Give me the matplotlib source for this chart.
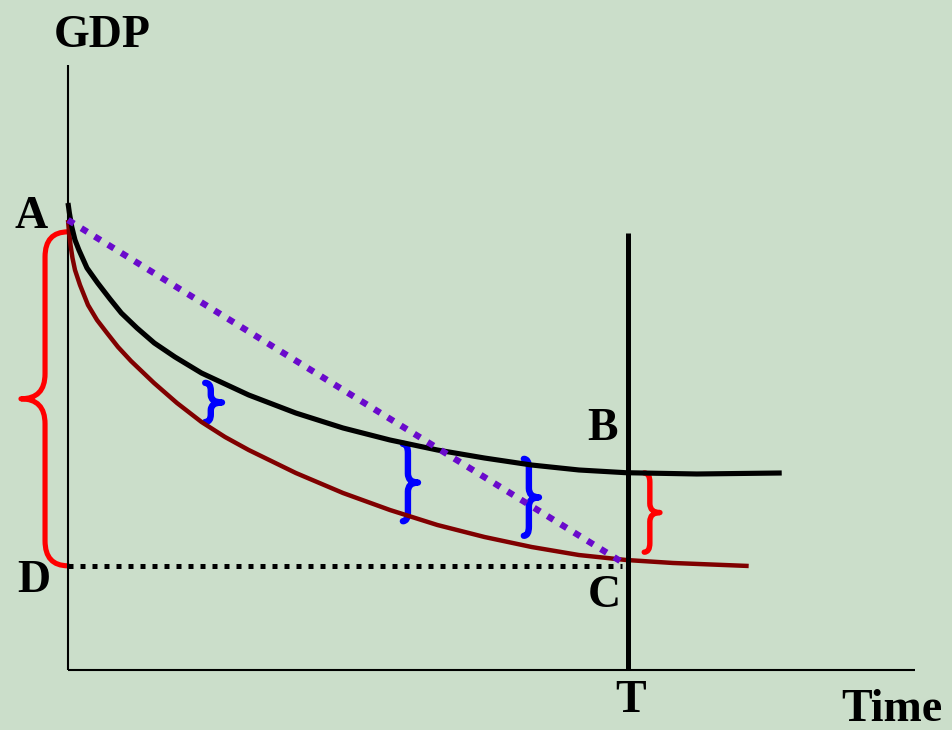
import matplotlib
matplotlib.use("Agg")
import matplotlib.pyplot as plt
from matplotlib.path import Path
from matplotlib.patches import PathPatch

# ---- data (time units: T = 10) ----
time_actual = [0, 0.025, 0.068, 0.125, 0.195, 0.339, 0.53, 0.75, 0.952, 1.232,
               1.541, 1.911, 2.384, 2.804, 3.227, 4.068, 4.911, 5.75, 6.596,
               7.438, 8.28, 9.123, 9.964, 11.229, 12.745]
gdp_actual = [10.264, 10.044, 9.736, 9.451, 9.231, 8.835, 8.505, 8.154, 7.846,
              7.516, 7.187, 6.879, 6.527, 6.286, 6.044, 5.648, 5.319, 5.055,
              4.835, 4.659, 4.505, 4.396, 4.336, 4.308, 4.33]

time_fast = [0, 0.018, 0.045, 0.08, 0.125, 0.214, 0.357, 0.518, 0.696, 0.893,
             1.125, 1.536, 1.946, 2.384, 2.804, 3.227, 4.068, 4.911, 5.75,
             6.596, 7.438, 8.28, 9.123, 9.964, 10.804, 12.155]
gdp_fast = [9.89, 9.626, 9.341, 9.055, 8.791, 8.462, 8.022, 7.692, 7.407, 7.099,
            6.791, 6.308, 5.868, 5.451, 5.121, 4.835, 4.33, 3.89, 3.516, 3.187,
            2.923, 2.703, 2.527, 2.418, 2.352, 2.286]

point_A = (0.0, 9.89)
point_C = (10.0, 2.29)
T_time = 10.0
T_line_top = 9.6
x_axis_end = 15.125
y_axis_end = 13.3

# braces: (x_end, x_spine, x_tip, y_top, y_bottom, corner, colour, width)
braces = [
    (0.0, -0.41, -0.84, 9.63, 2.29, 0.55, "#ff0000", 3.7),
    (2.45, 2.55, 2.75, 6.31, 5.45, 0.17, "#0000ff", 4.6),
    (5.98, 6.07, 6.25, 4.97, 3.27, 0.2, "#0000ff", 4.6),
    (8.14, 8.23, 8.41, 4.64, 2.95, 0.2, "#0000ff", 4.6),
    (10.29, 10.39, 10.57, 4.33, 2.59, 0.2, "#ff0000", 3.9),
]

labels = [
    ("GDP", 0.61, 13.69),
    ("A", -0.66, 9.71),
    ("D", -0.61, 1.71),
    ("B", 9.55, 5.05),
    ("C", 9.57, 1.38),
    ("T", 10.05, -0.92),
    ("Time", 14.72, -1.12),
]

BG = "#cbdeca"


def brace_path(x_end, x_spine, x_tip, y_top, y_bot, r):
    y_mid = (y_top + y_bot) / 2.0
    verts = [
        (x_end, y_top),
        (x_spine, y_top), (x_spine, y_top - r),
        (x_spine, y_mid + r),
        (x_spine, y_mid), (x_tip, y_mid),
        (x_spine, y_mid), (x_spine, y_mid - r),
        (x_spine, y_bot + r),
        (x_spine, y_bot), (x_end, y_bot),
    ]
    codes = [Path.MOVETO,
             Path.CURVE3, Path.CURVE3,
             Path.LINETO,
             Path.CURVE3, Path.CURVE3,
             Path.CURVE3, Path.CURVE3,
             Path.LINETO,
             Path.CURVE3, Path.CURVE3]
    return Path(verts, codes)


fig = plt.figure(figsize=(9.53, 7.30), dpi=100, facecolor=BG)
ax = fig.add_axes([0, 0, 1, 1])
ax.set_facecolor(BG)
ax.set_xlim(-68 / 56, 885 / 56)
ax.set_ylim(-60 / 45.5, 670 / 45.5)
ax.axis("off")

# axes of the diagram
ax.plot([0, 0], [0, y_axis_end], color="black", lw=1.5, solid_capstyle="butt")
ax.plot([0, x_axis_end], [0, 0], color="black", lw=1.5, solid_capstyle="butt")

# horizontal dotted level D -> C
ax.plot([0, point_C[0] - 0.1], [point_C[1], point_C[1]], color="black", lw=3.6,
        linestyle=(0, (1.0, 1.4)), dash_capstyle="butt")

# GDP paths
ax.plot(time_fast, gdp_fast, color="#800000", lw=3.2, solid_joinstyle="round",
        solid_capstyle="butt")
ax.plot(time_actual, gdp_actual, color="black", lw=3.7, solid_joinstyle="round",
        solid_capstyle="butt")

# straight-line path A -> C
ax.plot([point_A[0], point_C[0]], [point_A[1], point_C[1]], color="#6a0acc",
        lw=4.6, linestyle=(0, (1.1, 1.35)), dash_capstyle="butt")

# vertical line at T
ax.plot([T_time, T_time], [0, T_line_top], color="black", lw=3.6,
        solid_capstyle="butt")

for x_end, x_spine, x_tip, y_top, y_bot, r, col, w in braces:
    ax.add_patch(PathPatch(brace_path(x_end, x_spine, x_tip, y_top, y_bot, r),
                           facecolor="none", edgecolor=col, lw=w,
                           capstyle="round", joinstyle="round"))

for txt, x, y in labels:
    ax.text(x, y, txt, ha="center", va="baseline", fontsize=33,
            fontweight="bold", family="Liberation Serif", color="black")

fig.savefig("out.png", dpi=100, facecolor=BG)
